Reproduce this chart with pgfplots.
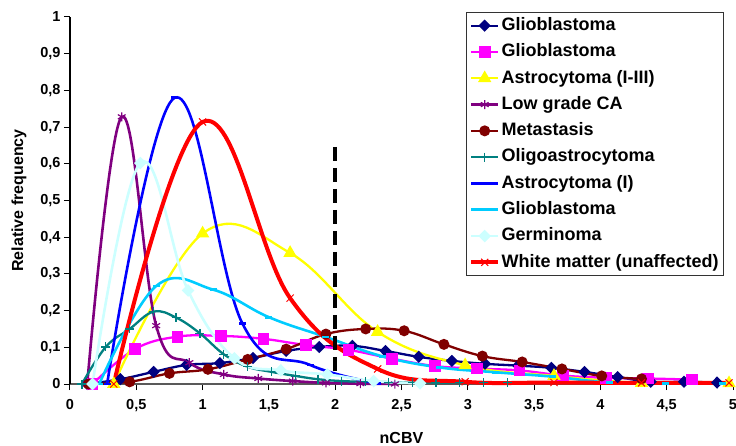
\documentclass[border=0pt]{standalone}
\usepackage{fontspec}
\setmainfont{Liberation Sans}
\usepackage{pgfplots}
\pgfplotsset{compat=1.18}
\definecolor{navyc}{HTML}{000080}
\definecolor{magc}{HTML}{FF00FF}
\definecolor{yelc}{HTML}{FFFF00}
\definecolor{purc}{HTML}{800080}
\definecolor{marc}{HTML}{800000}
\definecolor{tealc}{HTML}{008080}
\definecolor{bluec}{HTML}{0000FF}
\definecolor{skyc}{HTML}{00CCFF}
\definecolor{germc}{HTML}{CCFFFF}
\definecolor{redc}{HTML}{FF0000}
\begin{document}
\begin{tikzpicture}
\begin{axis}[
  name=ax,
  scale only axis,
  width=663bp, height=367bp,
  xmin=0, xmax=5, ymin=0, ymax=1,
  clip=false,
  axis lines=left,
  axis line style={-, line width=1.2bp},
  x axis line style={black!65},
  y axis line style={black},
  tick align=outside,
  major tick length=6bp,
  tick style={black, line width=1bp},
  xtick={0,0.5,...,5},
  ytick={0,0.1,...,1},
  /pgf/number format/assume math mode=true,
  /pgf/number format/use comma,
  ticklabel style={font=\bfseries\fontsize{14.5bp}{16bp}\selectfont},
  xticklabel style={yshift=-6bp},
  xlabel={nCBV},
  ylabel={Relative frequency},
  xlabel style={font=\bfseries\fontsize{16bp}{18bp}\selectfont, at={(axis description cs:0.5,-0.147)}, anchor=center},
  ylabel style={font=\bfseries\fontsize{16bp}{18bp}\selectfont, at={(axis description cs:-0.077,0.5)}, anchor=center},
  legend style={at={(0.986,1.0136)}, anchor=north east, font=\bfseries\fontsize{18bp}{20bp}\selectfont,
    draw=black!80, line width=1bp, inner xsep=3bp, inner ysep=3.4bp, row sep=6.8bp,
    nodes={inner sep=1.5bp, text height=13bp, text depth=3.5bp}, cells={anchor=west}},
  legend image code/.code={\draw[mark repeat=2,mark phase=2] plot coordinates {(0bp,0bp) (13.5bp,0bp) (27bp,0bp)};},
  every axis plot/.append style={smooth, tension=0.66},
]
% Glioblastoma (navy)
\addplot[color=navyc, line width=2.3bp, mark=diamond*, mark size=4.5bp, mark options={solid, fill=navyc, xscale=1.33}] coordinates {
(0.13,0) (0.38,0.013) (0.63,0.033) (0.88,0.052) (1.13,0.057) (1.38,0.071) (1.63,0.09) (1.88,0.101) (2.13,0.104) (2.38,0.09) (2.63,0.074) (2.88,0.063) (3.13,0.055) (3.38,0.05) (3.63,0.044) (3.88,0.033) (4.13,0.019) (4.38,0.006) (4.63,0.006) (4.88,0.004)};
\addlegendentry{Glioblastoma}
% Glioblastoma (magenta)
\addplot[color=magc, line width=2.3bp, mark=square*, mark size=4.7bp, mark options={solid, fill=magc}] coordinates {
(0.17,0) (0.49,0.095) (0.81,0.129) (1.14,0.131) (1.46,0.123) (1.78,0.106) (2.10,0.093) (2.43,0.069) (2.75,0.049) (3.07,0.042) (3.39,0.037) (3.72,0.023) (4.04,0.017) (4.36,0.015) (4.69,0.012)};
\addlegendentry{Glioblastoma}
% Astrocytoma (I-III) (yellow)
\addplot[color=yelc, line width=2.3bp, mark=triangle*, mark size=5.5bp, mark options={solid, fill=yelc}] coordinates {
(0.33,0) (1.0,0.41) (1.66,0.357) (2.32,0.142) (2.98,0.051) (3.65,0.022) (4.31,0.003) (4.97,0.002)};
\addlegendentry{Astrocytoma (I-III)}
% Low grade CA (purple)
\addplot[color=purc, line width=2.6bp, mark=asterisk, mark size=4.5bp, mark options={solid, line width=1.2bp}] coordinates {
(0.13,0) (0.39,0.728) (0.65,0.159) (0.90,0.058) (1.16,0.026) (1.42,0.015) (1.68,0.008) (1.93,0.003) (2.19,0.001) (2.45,0)};
\addlegendentry{Low grade CA}
% Metastasis (maroon)
\addplot[color=marc, line width=2.3bp, mark=*, mark size=4.3bp, mark options={solid, fill=marc}] coordinates {
(0.14,0) (0.45,0.006) (0.75,0.029) (1.04,0.04) (1.34,0.067) (1.63,0.095) (1.93,0.136) (2.23,0.15) (2.52,0.145) (2.82,0.108) (3.11,0.076) (3.41,0.06) (3.71,0.041) (4.01,0.022) (4.31,0.014)};
\addlegendentry{Metastasis}
% Oligoastrocytoma (teal)
\addplot[color=tealc, line width=2.3bp, mark=+, mark size=4.5bp, mark options={solid, line width=1.2bp}] coordinates {
(0.09,0) (0.27,0.101) (0.45,0.15) (0.63,0.197) (0.80,0.181) (0.98,0.138) (1.16,0.081) (1.34,0.047) (1.52,0.033) (1.70,0.022) (1.87,0.013) (2.05,0.008) (2.23,0.006) (2.40,0.005) (2.58,0.004) (2.76,0.004) (2.94,0.003) (3.12,0.003) (3.30,0.003)};
\addlegendentry{Oligoastrocytoma}
% Astrocytoma (I) (blue)
\addplot[color=bluec, line width=2.6bp, mark=-, mark size=3.5bp, mark options={solid, line width=2.6bp}] coordinates {
(0.28,0) (0.79,0.78) (1.30,0.165) (1.81,0.052) (2.32,0.002)};
\addlegendentry{Astrocytoma (I)}
% Glioblastoma (sky blue)
\addplot[color=skyc, line width=2.6bp, mark=-, mark size=3.5bp, mark options={solid, line width=2.6bp}] coordinates {
(0.22,0) (0.65,0.267) (1.08,0.257) (1.50,0.182) (1.93,0.128) (2.36,0.075) (2.79,0.045) (3.21,0.032) (3.64,0.02) (4.07,0.004) (4.49,0.002) (4.92,0.002)};
\addlegendentry{Glioblastoma}
% Germinoma (light turquoise)
\addplot[color=germc, line width=2.6bp, mark=diamond*, mark size=4.5bp, mark options={solid, fill=germc, xscale=1.33}] coordinates {
(0.17,0) (0.53,0.602) (0.89,0.255) (1.24,0.07) (1.59,0.037) (1.94,0.026) (2.29,0.008) (2.64,0.002)};
\addlegendentry{Germinoma}
% White matter (red)
\addplot[color=redc, line width=4bp, mark=x, mark size=5bp, mark options={solid, line width=1bp}] coordinates {
(0.33,0) (1.0,0.714) (1.66,0.234) (2.32,0.041) (2.98,0.006) (3.65,0.004) (4.31,0.003) (4.97,0.003)};
\addlegendentry{White matter (unaffected)}
% threshold line
\addplot[black, line width=4bp, dash pattern=on 14bp off 7bp, sharp plot, forget plot] coordinates {(2,0.646) (2,0.02)};
\end{axis}
\pgfresetboundingbox
\path ([shift={(-70bp,-62bp)}]ax.south west) rectangle ([shift={(3bp,17bp)}]ax.north east);
\end{tikzpicture}
\end{document}
